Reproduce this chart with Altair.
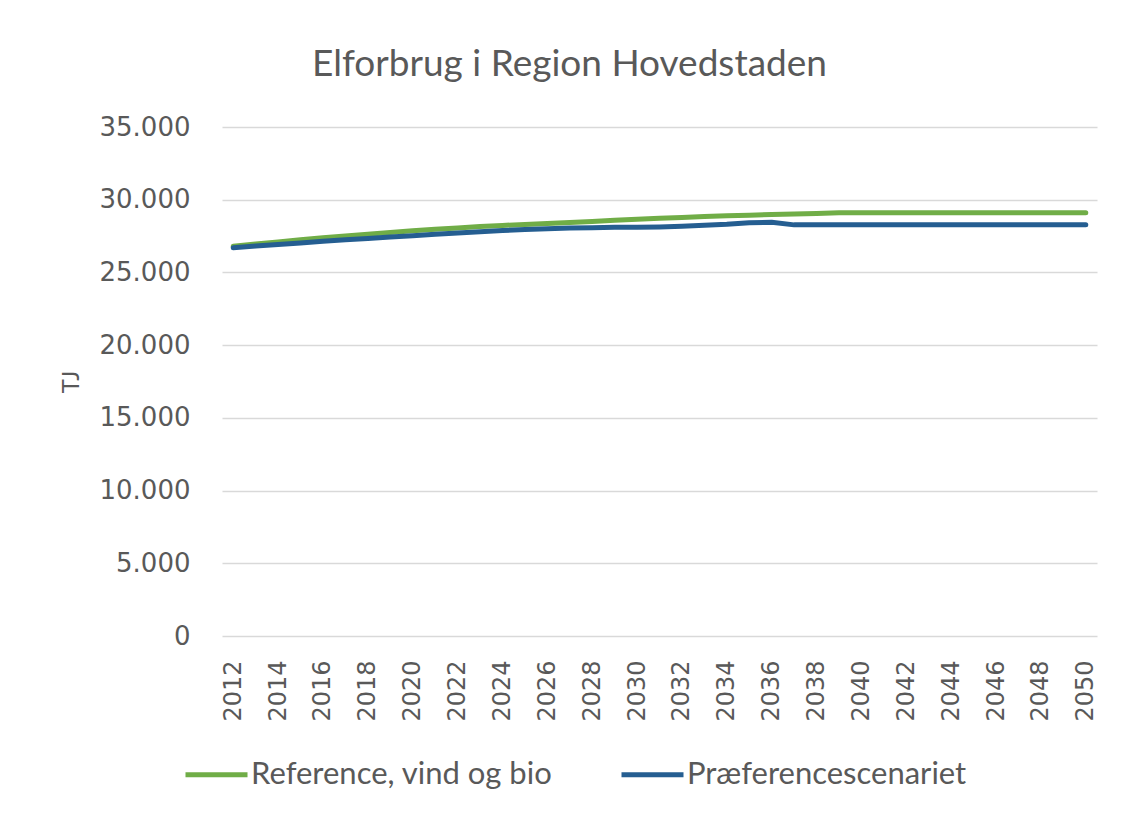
import altair as alt
import pandas as pd

years = list(range(2012, 2051))
series_names = ["Reference, vind og bio", "Præferencescenariet"]
reference = [26800, 26950, 27100, 27250, 27380, 27500, 27620, 27740, 27860, 27970,
             28060, 28150, 28230, 28300, 28370, 28440, 28510, 28580, 28650, 28720,
             28780, 28840, 28890, 28940, 28980, 29020, 29060, 29100, 29100, 29100,
             29100, 29100, 29100, 29100, 29100, 29100, 29100, 29100, 29100]
praef = [26700, 26810, 26920, 27030, 27140, 27240, 27340, 27440, 27530, 27620,
         27710, 27800, 27880, 27950, 28010, 28050, 28080, 28100, 28110, 28130,
         28180, 28240, 28310, 28420, 28450, 28270, 28270, 28270, 28270, 28270,
         28270, 28270, 28270, 28270, 28270, 28270, 28270, 28270, 28270]
y_ticks = list(range(0, 35001, 5000))
x_ticks = years[::2]
colors = ["#70ad47", "#255e91"]

df = pd.DataFrame({
    "year": years * 2,
    "value": reference + praef,
    "series": [series_names[0]] * len(years) + [series_names[1]] * len(years),
})

text_color = "#595959"

chart = alt.Chart(df).mark_line(strokeWidth=5, strokeCap="round", strokeJoin="round").encode(
    x=alt.X("year:O", scale=alt.Scale(type="point", padding=0.5),
            axis=alt.Axis(values=x_ticks, labelAngle=-90, title=None, grid=False,
                          ticks=False, domain=False, labelPadding=24,
                          labelFont="DejaVu Sans", labelFontSize=24,
                          labelColor=text_color)),
    y=alt.Y("value:Q", scale=alt.Scale(domain=[0, 35000]),
            axis=alt.Axis(values=y_ticks, title="TJ", grid=True, gridColor="#d9d9d9",
                          gridWidth=1.5, ticks=False, domain=False, labelPadding=32,
                          labelFont="DejaVu Sans", labelFontSize=26,
                          labelColor=text_color,
                          labelExpr="replace(format(datum.value, ','), ',', '.')",
                          titleFont="Lato", titleFontSize=24, titleFontWeight="normal",
                          titleColor=text_color, titlePadding=16)),
    color=alt.Color("series:N", scale=alt.Scale(domain=series_names, range=colors),
                    sort=series_names,
                    legend=alt.Legend(title=None, orient="none", direction="horizontal",
                                      legendX=-39, legendY=614,
                                      symbolType="stroke", symbolSize=3844,
                                      symbolStrokeWidth=5, labelOffset=1,
                                      columnPadding=58, labelFont="Lato",
                                      labelFontSize=31, labelColor=text_color,
                                      labelLimit=0)),
).properties(
    width=875,
    height=509,
    title=alt.TitleParams("Elforbrug i Region Hovedstaden", font="Lato", fontSize=37,
                          fontWeight="normal", color=text_color, anchor="middle",
                          dx=-90, offset=30),
    autosize=alt.AutoSizeParams(type="none"),
    padding={"left": 214, "top": 119, "right": 19, "bottom": 176},
).configure_view(stroke=None)

chart.save("out.html", embed_options={"renderer": "svg", "actions": False})
